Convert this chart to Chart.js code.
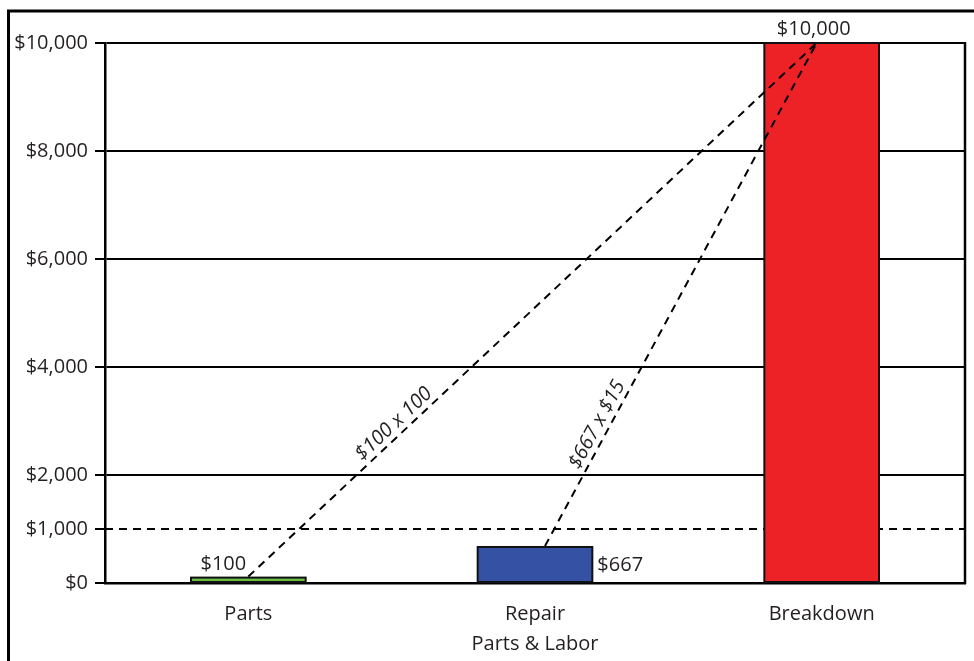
<!DOCTYPE html>
<html>
<head>
<meta charset="utf-8">
<script src="https://cdn.jsdelivr.net/npm/chart.js@4.4.1/dist/chart.umd.min.js"></script>
<style>
  html, body { margin: 0; padding: 0; background: #fff; }
  #wrap { width: 974px; height: 661px; }
</style>
</head>
<body>
<div id="wrap"><canvas id="c" width="974" height="661"></canvas></div>
<script>
// Cost categories and their dollar amounts
const categories = [['Parts'], ['Repair', 'Parts & Labor'], ['Breakdown']];
const costs = [100, 667, 10000];
const costLabels = ['$100', '$667', '$10,000'];
const barColors = ['#6cbd45', '#3451a4', '#ed2227'];
const yTickValues = [0, 1000, 2000, 4000, 6000, 8000, 10000];
const thresholdValue = 1000;
const multiplierLabels = ['$100 x 100', '$667 x $15'];

const FONT = '"Open Sans", "DejaVu Sans", sans-serif';
const INK = '#231f20';

function money(v) {
  return '$' + Number(v).toLocaleString('en-US');
}

// Text placed along a connector, sitting just above the line
function drawAlong(ctx, text, p0, p1, t, lift) {
  const ang = Math.atan2(p1.y - p0.y, p1.x - p0.x);
  const x = p0.x + (p1.x - p0.x) * t;
  const y = p0.y + (p1.y - p0.y) * t;
  ctx.save();
  ctx.translate(x, y);
  ctx.rotate(ang);
  ctx.font = 'italic 20px ' + FONT;
  ctx.fillStyle = INK;
  ctx.textAlign = 'center';
  ctx.textBaseline = 'alphabetic';
  ctx.fillText(text, 0, -lift);
  ctx.restore();
}

const decorations = {
  id: 'decorations',
  beforeDraw(chart) {
    // outer frame (left and top edges)
    const ctx = chart.ctx;
    ctx.save();
    ctx.strokeStyle = '#000';
    ctx.lineWidth = 3;
    ctx.beginPath();
    ctx.moveTo(8.5, chart.height);
    ctx.lineTo(8.5, 11);
    ctx.lineTo(chart.width, 11);
    ctx.stroke();
    ctx.restore();
  },
  beforeDatasetsDraw(chart) {
    const { ctx, chartArea: a, scales: { y } } = chart;
    const yy = y.getPixelForValue(thresholdValue);
    ctx.save();
    ctx.strokeStyle = '#000';
    ctx.lineWidth = 2;
    ctx.setLineDash([8, 6]);
    ctx.beginPath();
    ctx.moveTo(a.left, yy);
    ctx.lineTo(a.right, yy);
    ctx.stroke();
    ctx.setLineDash([]);
    ctx.lineWidth = 2.5;
    ctx.beginPath();
    ctx.moveTo(a.right, a.top - 1);
    ctx.lineTo(a.right, a.bottom + 1);
    ctx.stroke();
    ctx.restore();
  },
  afterDatasetsDraw(chart) {
    const ctx = chart.ctx;
    const bars = chart.getDatasetMeta(0).data;
    const base = chart.scales.y.getPixelForValue(0);

    // bar outlines, stroked on the bar edges
    ctx.save();
    ctx.strokeStyle = '#111';
    ctx.lineWidth = 2;
    bars.forEach(b => {
      const p = b.getProps(['x', 'y', 'base', 'width'], true);
      ctx.strokeRect(p.x - p.width / 2, p.y, p.width, p.base - p.y);
    });
    ctx.restore();

    const target = { x: bars[2].x - 5, y: bars[2].y };
    const fromParts = { x: bars[0].x, y: bars[0].y - 1 };
    const fromRepair = { x: bars[1].x + 10, y: bars[1].y - 1 };

    // dashed connectors to the breakdown cost
    ctx.save();
    ctx.strokeStyle = '#000';
    ctx.lineWidth = 2;
    ctx.setLineDash([8, 6]);
    [fromParts, fromRepair].forEach(p => {
      ctx.beginPath();
      ctx.moveTo(p.x, p.y);
      ctx.lineTo(target.x, target.y);
      ctx.stroke();
    });
    ctx.restore();

    drawAlong(ctx, multiplierLabels[0], fromParts, target, 0.27, 6);
    drawAlong(ctx, multiplierLabels[1], fromRepair, target, 0.23, 6);

    // value labels
    ctx.save();
    ctx.font = '20px ' + FONT;
    ctx.fillStyle = INK;
    ctx.textBaseline = 'alphabetic';
    ctx.textAlign = 'center';
    ctx.fillText(costLabels[0], bars[0].x - 25, bars[0].y - 8);
    ctx.fillText(costLabels[2], bars[2].x - 8, bars[2].y - 8);
    ctx.textAlign = 'left';
    ctx.textBaseline = 'middle';
    ctx.fillText(costLabels[1], bars[1].x + bars[1].width / 2 + 5, (bars[1].y + base) / 2);
    ctx.restore();
  }
};

new Chart(document.getElementById('c'), {
  type: 'bar',
  data: {
    labels: categories,
    datasets: [{
      data: costs,
      backgroundColor: barColors,
      borderWidth: 0,
      categoryPercentage: 1,
      barPercentage: 0.4
    }]
  },
  options: {
    responsive: false,
    animation: false,
    devicePixelRatio: 1,
    layout: { padding: { left: 10, right: 9, top: 43, bottom: 0 } },
    plugins: { legend: { display: false }, tooltip: { enabled: false } },
    scales: {
      x: {
        grid: { display: false },
        border: { display: true, color: '#000', width: 2.5 },
        ticks: {
          color: INK,
          font: { family: FONT, size: 20, lineHeight: 1.5 },
          padding: 8,
          maxRotation: 0
        },
        afterFit(scale) { scale.height = 78; }
      },
      y: {
        min: 0,
        max: 10000,
        afterBuildTicks(scale) {
          scale.ticks = yTickValues.map(v => ({ value: v }));
        },
        grid: {
          color: ctx => (ctx.tick && ctx.tick.value === thresholdValue) ? 'rgba(0,0,0,0)' : '#000',
          lineWidth: 2,
          tickLength: 10,
          tickColor: '#000',
          tickWidth: 2
        },
        border: { display: true, color: '#000', width: 2.5 },
        ticks: {
          color: INK,
          font: { family: FONT, size: 20 },
          padding: 7,
          callback: v => money(v)
        },
        afterFit(scale) { scale.width = 95; }
      }
    }
  },
  plugins: [decorations]
});
</script>
</body>
</html>
